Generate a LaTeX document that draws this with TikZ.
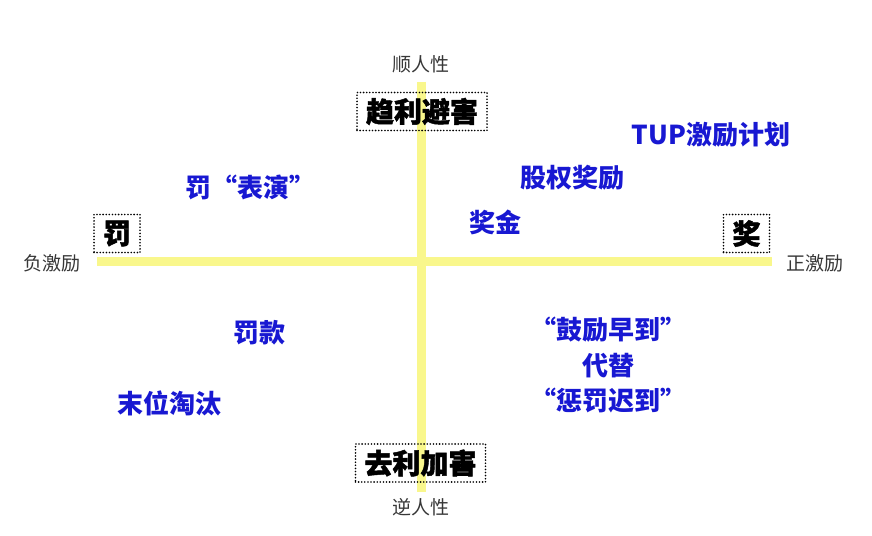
\documentclass[tikz,border=0pt]{standalone}
\usepackage{fontspec}
\setmainfont{Noto Sans CJK SC}
\newfontfamily\polefont{Noto Sans CJK SC}[BoldFeatures={FakeBold=1.6}]
\usetikzlibrary{positioning}
\definecolor{axisyellow}{RGB}{249,247,140}
\definecolor{markblue}{RGB}{24,24,210}
\definecolor{labelgray}{RGB}{55,55,55}
\tikzstyle{axis} = [draw=axisyellow, line width=4.5pt]
\tikzstyle{pole} = [rectangle, draw, line width=0.9pt, line cap=round, dash pattern=on 0pt off 1.55pt,
    font=\polefont\bfseries\fontsize{14}{16}\selectfont, inner xsep=4.5pt, inner ysep=0pt, minimum height=19pt]
\tikzstyle{side} = [text=labelgray, font=\fontsize{9.5}{11}\selectfont]
\tikzstyle{item} = [text=markblue, font=\bfseries\fontsize{13}{17.75}\selectfont, align=center]

\begin{document}
\begin{tikzpicture} [x=0.5pt, y=-0.5pt]
    \useasboundingbox [fill=white] (0,0) rectangle (872,535);
    % Axes
    \coordinate (north) at (421,82);
    \coordinate (south) at (421,492);
    \coordinate (west) at (97,261.5);
    \coordinate (east) at (772,261.5);
    \path [axis] (north) -- (south);
    \path [axis] (west) -- (east);
    % Poles
    \node [pole] (lure) at (422,111.5) {趋利避害};
    \node [pole] (harm) at (420.5,463) {去利加害};
    \node [pole] (punish) at (117,233.5) {罚};
    \node [pole] (reward) at (746.5,233.5) {奖};
    % Axis labels
    \node [side] (withnature) at (421,64) {顺人性};
    \node [side] (againstnature) at (421,507) {逆人性};
    \node [side] (negative) at (52,263) {负激励};
    \node [side] (positive) at (815,263) {正激励};
    % Quadrant items
    \node [item] (tup) at (711,135) {TUP激励计划};
    \node [item] (equity) at (572,178) {股权奖励};
    \node [item] (bonus) at (495,222) {奖金};
    \node [item] (show) at (250,187) {罚“表演”};
    \node [item] (fine) at (259,333) {罚款};
    \node [item] (elimination) at (169,403) {末位淘汰};
    \node [item] (early) at (608,365) {“鼓励早到”\\代替\\“惩罚迟到”};
\end{tikzpicture}
\end{document}
